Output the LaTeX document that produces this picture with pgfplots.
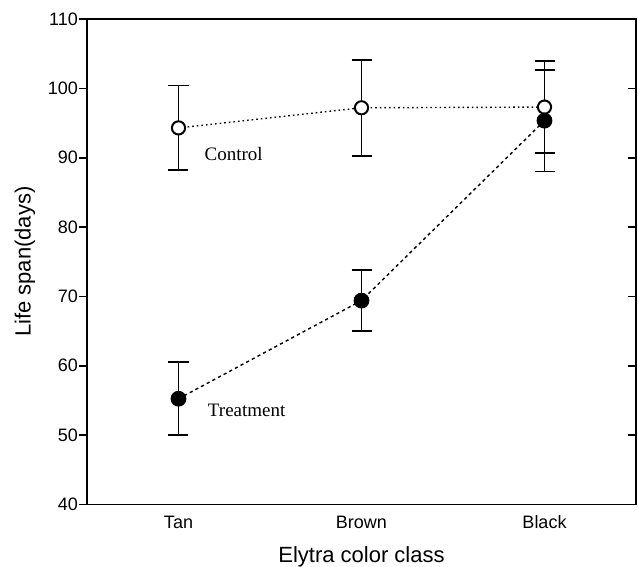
\documentclass[border=0pt]{standalone}
\usepackage{fontspec}
\setmainfont{Liberation Sans}
\newfontfamily\serifnames{Liberation Serif}
\usepackage{pgfplots}
\pgfplotsset{compat=1.18}
\begin{document}
\begin{tikzpicture}
\pgfplotsset{
  common/.style={
    scale only axis, width=549bp, height=485.5bp,
    xmin=-0.5, xmax=2.5, ymin=40, ymax=110,
    ytick={40,50,...,110},
    axis line style={line width=1.8bp},
    major tick length=8bp,
    tick style={line width=1.6bp, black},
  }
}
\begin{axis}[common,
  xtick={0,1,2}, xticklabels={Tan,Brown,Black},
  xtick style={draw=none}, xtick align=inside,
  ytick pos=left, ytick align=outside,
  ticklabel style={font=\fontsize{18bp}{20bp}\selectfont},
  /pgf/number format/assume math mode=true,
  yticklabel style={inner sep=1bp},
  xticklabel style={anchor=base, yshift=-24.3bp},
  xlabel={Elytra color class}, ylabel={Life span(days)},
  label style={font=\fontsize{22bp}{24bp}\selectfont},
  xlabel style={at={(axis description cs:0.5,-0.1188)}, anchor=base},
  ylabel style={at={(axis description cs:-0.113,0.5)}, anchor=center},
  clip=false,
]
% Control
\addplot[black, line width=1.4bp, dash pattern=on 1.6bp off 3bp,
  mark=*, mark size=6.6bp, mark options={solid, fill=white, line width=2bp},
  error bars/.cd, y dir=both, y explicit,
  error bar style={line width=1.8bp, solid},
  error mark=|, error mark options={mark size=10bp, line width=1.8bp, solid}]
coordinates {
 (0,94.3) +- (0,6.1)
 (1,97.2) +- (0,6.9)
 (2,97.3) +- (0,6.6)
};
% Treatment
\addplot[black, line width=1.4bp, dash pattern=on 3.2bp off 3.2bp,
  mark=*, mark size=7.4bp, mark options={solid, fill=black, line width=1bp},
  error bars/.cd, y dir=both, y explicit,
  error bar style={line width=1.8bp, solid},
  error mark=|, error mark options={mark size=10bp, line width=1.8bp, solid}]
coordinates {
 (0,55.25) +- (0,5.25)
 (1,69.4) +- (0,4.4)
 (2,95.35) +- (0,7.35)
};
\node[anchor=base west, inner sep=0pt, font=\serifnames\fontsize{19bp}{21bp}\selectfont] at (axis cs:0.142,89.6) {Control};
\node[anchor=base west, inner sep=0pt, font=\serifnames\fontsize{19bp}{21bp}\selectfont] at (axis cs:0.16,52.65) {Treatment};
\end{axis}
\begin{axis}[common,
  xtick=\empty, ytick pos=right, ytick align=inside,
  yticklabels={},
]
\end{axis}
\pgfresetboundingbox
\useasboundingbox (-87bp,-62bp) rectangle (551bp,504.5bp);
\end{tikzpicture}
\end{document}
